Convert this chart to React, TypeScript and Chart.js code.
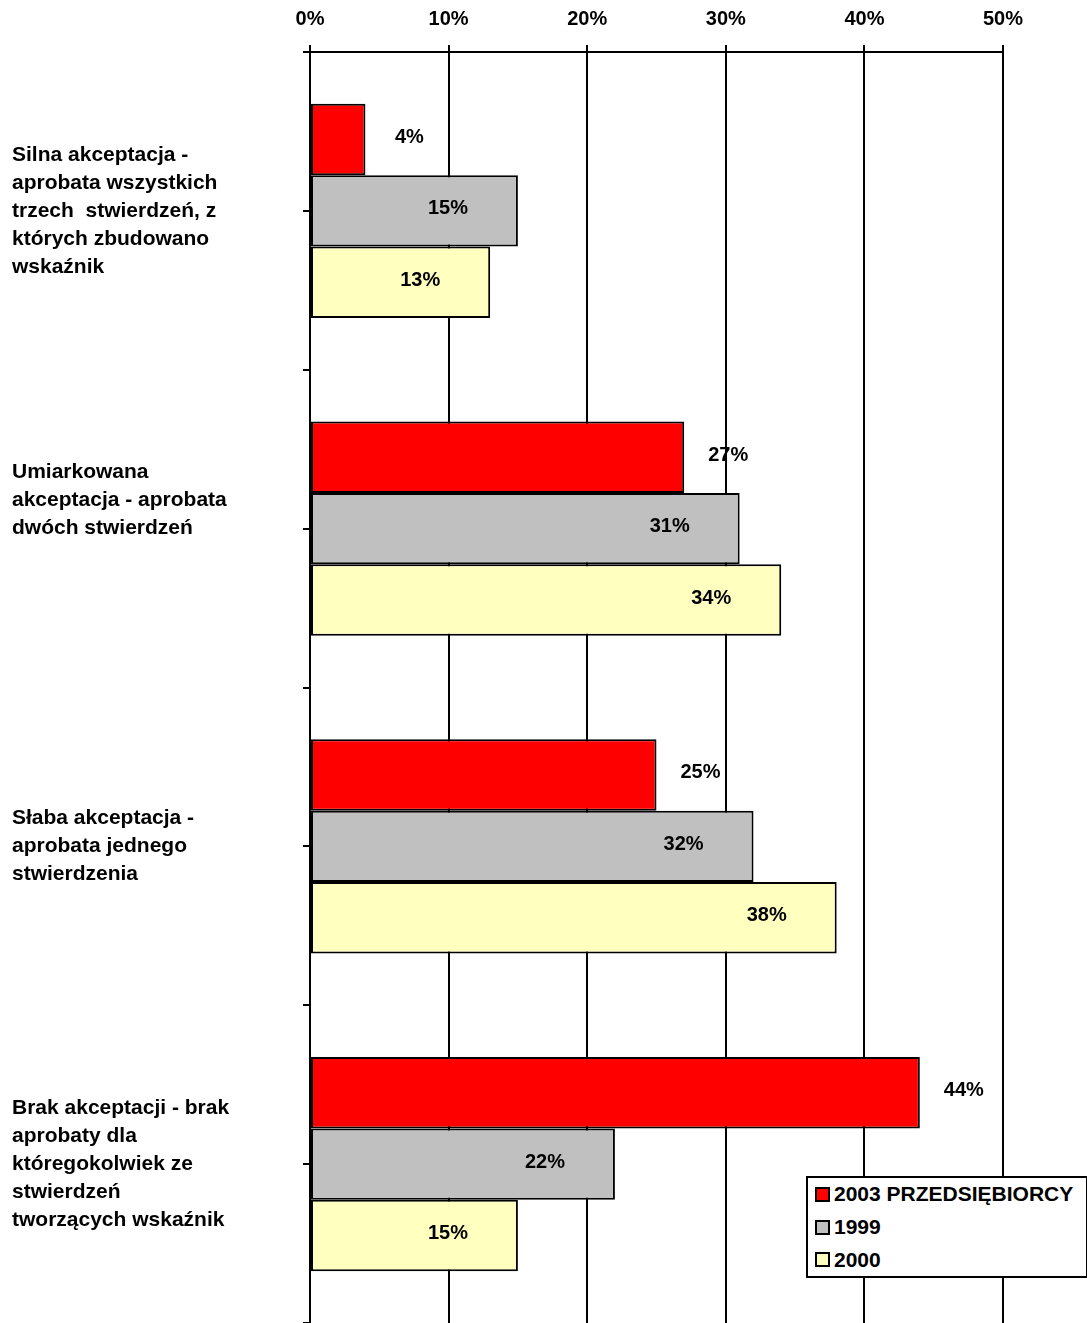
import React, { useEffect, useRef } from "react";
import { Chart, registerables } from "chart.js";

Chart.register(...registerables);

const categories: string[][] = [
  ["Silna akceptacja -", "aprobata wszystkich", "trzech  stwierdzeń, z", "których zbudowano", "wskaźnik"],
  ["Umiarkowana", "akceptacja - aprobata", "dwóch stwierdzeń", "", ""],
  ["Słaba akceptacja -", "aprobata jednego", "stwierdzenia"],
  ["Brak akceptacji - brak", "aprobaty dla", "któregokolwiek ze", "stwierdzeń", "tworzących wskaźnik"],
];

const seriesNames = ["2003 PRZEDSIĘBIORCY", "1999", "2000"];
const values2003 = [4, 27, 25, 44];
const values1999 = [15, 31, 32, 22];
const values2000 = [13, 34, 38, 15];
const seriesColors = ["#FF0000", "#C0C0C0", "#FFFFC0"];
const xTickMax = 50;
const xTickStep = 10;

const FONT = "'Liberation Sans', Arial, sans-serif";

const labelPlugin = {
  id: "valueLabels",
  afterDatasetsDraw(chart: any) {
    const ctx = chart.ctx;
    ctx.save();
    ctx.font = `bold 20px ${FONT}`;
    ctx.fillStyle = "#000";
    ctx.textAlign = "center";
    ctx.textBaseline = "middle";
    chart.data.datasets.forEach((ds: any, di: number) => {
      const meta = chart.getDatasetMeta(di);
      meta.data.forEach((el: any, i: number) => {
        const v = ds.data[i];
        const x = di === 0 ? el.x + 44 : el.x - 70;
        ctx.fillText(v + "%", x, el.y - 2);
      });
    });
    ctx.restore();
  },
};

const midTicksPlugin = {
  id: "midTicks",
  afterDraw(chart: any) {
    const y = chart.scales.y;
    const ctx = chart.ctx;
    ctx.save();
    ctx.strokeStyle = "#000";
    ctx.lineWidth = 2;
    for (let i = 0; i < categories.length; i++) {
      const py = Math.round(y.getPixelForTick(i));
      ctx.beginPath();
      ctx.moveTo(y.right - 7, py);
      ctx.lineTo(y.right, py);
      ctx.stroke();
    }
    ctx.restore();
  },
};

export default function App() {
  const ref = useRef<HTMLCanvasElement | null>(null);

  useEffect(() => {
    document.body.style.margin = "0";
    const datas = [values2003, values1999, values2000];
    const chart = new Chart(ref.current as HTMLCanvasElement, {
      type: "bar",
      data: {
        labels: categories,
        datasets: datas.map((d, i) => ({
          label: seriesNames[i],
          data: d,
          backgroundColor: seriesColors[i],
          borderColor: "#000",
          borderWidth: 2,
          borderSkipped: false,
          categoryPercentage: 0.675,
          barPercentage: 1.0,
        })),
      },
      options: {
        indexAxis: "y",
        animation: false,
        responsive: false,
        maintainAspectRatio: false,
        layout: { padding: { left: 12, right: 84, top: 0, bottom: 0 } },
        plugins: { legend: { display: false }, tooltip: { enabled: false } },
        scales: {
          x: {
            position: "top",
            min: 0,
            max: xTickMax,
            afterFit: (s: any) => {
              s.height = 52;
              s.paddingLeft = 0;
              s.paddingRight = 0;
            },
            ticks: {
              stepSize: xTickStep,
              padding: 14,
              color: "#000",
              font: { family: FONT, size: 20, weight: "bold" },
              callback: (v: any) => v + "%",
            },
            grid: { color: "#000", lineWidth: 2, tickLength: 7, drawTicks: true },
            border: { display: true, color: "#000", width: 2 },
          },
          y: {
            afterFit: (s: any) => {
              s.width = 298;
              s.paddingTop = 0;
              s.paddingBottom = 0;
            },
            ticks: {
              crossAlign: "far",
              color: "#000",
              font: { family: FONT, size: 21, weight: "bold", lineHeight: 1.333 },
              padding: 10,
            },
            grid: {
              display: true,
              drawOnChartArea: false,
              offset: true,
              color: "#000",
              lineWidth: 2,
              tickLength: 7,
            },
            border: { display: true, color: "#000", width: 2 },
          },
        },
      },
      plugins: [labelPlugin, midTicksPlugin],
    } as any);
    return () => chart.destroy();
  }, []);

  const legendItem = (name: string, color: string) => (
    <div key={name} style={{ display: "flex", alignItems: "center", height: 34 }}>
      <div
        style={{
          width: 11,
          height: 11,
          background: color,
          border: "2px solid #000",
          marginRight: 4,
        }}
      />
      <span>{name}</span>
    </div>
  );

  return (
    <div style={{ position: "relative", width: 1087, height: 1323, background: "#fff" }}>
      <canvas ref={ref} width={1087} height={1323} style={{ display: "block" }} />
      <div
        style={{
          position: "absolute",
          left: 806,
          top: 1176,
          width: 271,
          height: 98,
          border: "2px solid #000",
          background: "#fff",
          fontFamily: FONT,
          fontWeight: "bold",
          fontSize: 21,
          color: "#000",
          paddingLeft: 7,
          boxSizing: "content-box",
          display: "flex",
          flexDirection: "column",
          justifyContent: "center",
        }}
      >
        {seriesNames.map((n, i) => legendItem(n, seriesColors[i]))}
      </div>
    </div>
  );
}
